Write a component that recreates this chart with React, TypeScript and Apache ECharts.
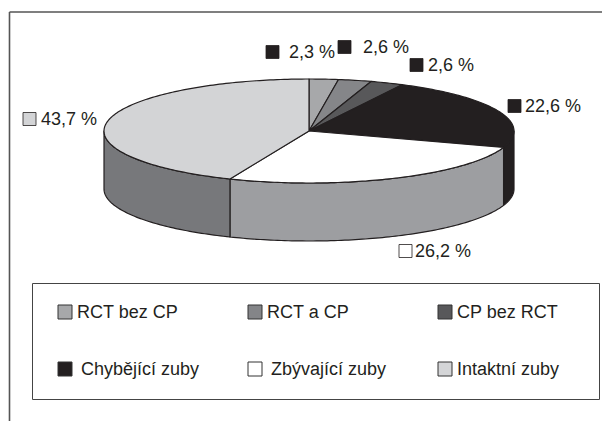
import React, { useEffect, useRef } from "react";
import * as echarts from "echarts";

// ---- data ----
const categories = ["RCT bez CP", "RCT a CP", "CP bez RCT", "Chybějící zuby", "Zbývající zuby", "Intaktní zuby"];
const values = [2.3, 2.6, 2.6, 22.6, 26.2, 43.7];

// ---- styles ----
const topColors = ["#a7a8aa", "#858689", "#58585a", "#231f20", "#ffffff", "#d3d4d6"];
const sideColors = ["#8a8b8d", "#6b6c6e", "#444446", "#231f20", "#9d9ea1", "#77787b"];
const labelMarkerColors = ["#231f20", "#231f20", "#231f20", "#231f20", "#ffffff", "#d3d4d6"];
const legendMarkerColors = ["#a7a8aa", "#848588", "#58585a", "#231f20", "#ffffff", "#d4d5d7"];

const FONT = "'Liberation Sans', Arial, Helvetica, sans-serif";
const INK = "#231f20";

// pie geometry (layout)
const CX = 309, CY = 131, RX = 205, RY = 52, DEPTH = 58;
// label layout: [marker left, center y, text left]
const labelLayout = [
  [266, 52, 289],
  [338, 47, 363],
  [410, 65, 428],
  [508, 106, 525],
  [399, 251, 415],
  [23, 119, 41],
];
const legendCols = [58, 248, 438];
const legendRows = [312, 369];
const legendTextGap = [19, 19, 19, 23, 23, 19];

function fmt(v: number) {
  return v.toFixed(1).replace(".", ",") + " %";
}

function ell(t: number, dy = 0): number[] {
  return [CX + RX * Math.sin(t), CY - RY * Math.cos(t) + dy];
}

function arcPts(t1: number, t2: number, dy = 0): number[][] {
  const n = Math.max(2, Math.ceil(((t2 - t1) * 180) / Math.PI));
  const pts: number[][] = [];
  for (let k = 0; k <= n; k++) pts.push(ell(t1 + ((t2 - t1) * k) / n, dy));
  return pts;
}

export default function App() {
  const ref = useRef<HTMLDivElement>(null);
  useEffect(() => {
    if (!ref.current) return;
    const chart = echarts.init(ref.current, null, { renderer: "svg" });
    const total = values.reduce((a, b) => a + b, 0);
    let acc = 0;
    const sliceData = values.map((v, i) => {
      const s = acc;
      acc += v;
      return [s, acc, i, v];
    });

    const renderItem = (params: any, api: any) => {
      const s = api.value(0);
      const e = api.value(1);
      const i = api.value(2);
      const v = api.value(3);
      const t1 = (s / total) * Math.PI * 2;
      const t2 = (e / total) * Math.PI * 2;
      const children: any[] = [];
      const strokeStyle = { stroke: INK, lineWidth: 1.2, lineJoin: "round" };
      // side face
      const a = Math.max(t1, Math.PI / 2);
      const b = Math.min(t2, (Math.PI * 3) / 2);
      if (a < b) {
        const top = arcPts(a, b);
        const bot = arcPts(a, b, DEPTH).reverse();
        children.push({
          type: "polygon",
          shape: { points: top.concat(bot) },
          style: { fill: sideColors[i], ...strokeStyle },
        });
      }
      // top face
      children.push({
        type: "polygon",
        shape: { points: [[CX, CY]].concat(arcPts(t1, t2)) },
        style: { fill: topColors[i], ...strokeStyle },
      });
      // label
      const L = labelLayout[i];
      children.push({
        type: "rect",
        shape: { x: L[0], y: L[1] - 6.5, width: 13, height: 13 },
        style: { fill: labelMarkerColors[i], stroke: INK, lineWidth: 0.8 },
      });
      children.push({
        type: "text",
        x: L[2],
        y: L[1],
        style: { text: fmt(v), font: `18px ${FONT}`, fill: INK, textVerticalAlign: "middle", verticalAlign: "middle" },
      });
      return { type: "group", children };
    };

    const legendEls: any[] = [];
    categories.forEach((name, i) => {
      const x = legendCols[i % 3];
      const y = legendRows[Math.floor(i / 3)];
      legendEls.push({
        type: "rect",
        shape: { x, y: y - 7, width: 14, height: 14 },
        style: { fill: legendMarkerColors[i], stroke: "#333", lineWidth: 1 },
      });
      legendEls.push({
        type: "text",
        x: x + legendTextGap[i],
        y,
        style: { text: name, font: `18px ${FONT}`, fill: INK, verticalAlign: "middle" },
      });
    });

    chart.setOption({
      animation: false,
      backgroundColor: "#ffffff",
      graphic: [
        { type: "line", shape: { x1: 9.5, y1: 12, x2: 602, y2: 12 }, style: { stroke: "#555", lineWidth: 1.6 } },
        { type: "line", shape: { x1: 9.5, y1: 12, x2: 9.5, y2: 421 }, style: { stroke: "#555", lineWidth: 1.6 } },
        { type: "rect", shape: { x: 32.5, y: 283.5, width: 567, height: 116 }, style: { fill: "none", stroke: "#444", lineWidth: 1 } },
        ...legendEls,
      ],
      series: [
        {
          type: "custom",
          coordinateSystem: "none",
          silent: true,
          renderItem,
          data: sliceData,
        },
      ],
    });
    return () => chart.dispose();
  }, []);
  return <div ref={ref} style={{ position: "fixed", left: 0, top: 0, width: 602, height: 421 }} />;
}
